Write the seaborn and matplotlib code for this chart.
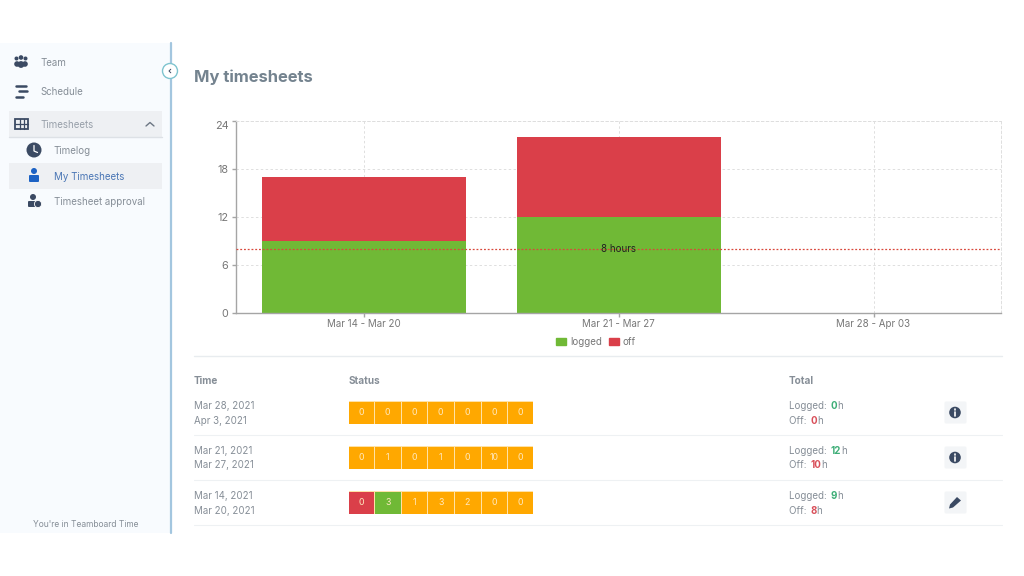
"""
My timesheets - stacked weekly hours with the status table around it
"""

import matplotlib
matplotlib.use('Agg')
import matplotlib.pyplot as plt
from matplotlib.colors import ListedColormap
from matplotlib.patches import Circle, FancyBboxPatch, Patch, Rectangle, Polygon
import numpy as np
import seaborn as sns

# Chart data
weeks = ['Mar 14 - Mar 20', 'Mar 21 - Mar 27', 'Mar 28 - Apr 03']
logged = [9, 12, 0]
off = [8, 10, 0]
y_ticks = [0, 6, 12, 18, 24]
threshold = 8

# Table data
time_from = ['Mar 28, 2021', 'Mar 21, 2021', 'Mar 14, 2021']
time_to = ['Apr 3, 2021', 'Mar 27, 2021', 'Mar 20, 2021']
day_hours = [[0, 0, 0, 0, 0, 0, 0],
             [0, 1, 0, 1, 0, 10, 0],
             [0, 3, 1, 3, 2, 0, 0]]
# 0 = open (orange), 1 = off (red), 2 = logged (green)
day_state = [[0, 0, 0, 0, 0, 0, 0],
             [0, 0, 0, 0, 0, 0, 0],
             [1, 2, 0, 0, 0, 0, 0]]
total_logged = ['0', '12', '9']
total_off = ['0', '10', '8']
menu_top = ['Team', 'Schedule']
menu_sub = ['Timelog', 'My Timesheets', 'Timesheet approval']

GREEN = '#70b936'
RED = '#da3f49'
ORANGE = '#ffa800'
GREY = '#868e97'
DARK = '#3b4a63'

sns.set_style("white")
plt.rcParams['font.family'] = ['Inter', 'DejaVu Sans']

W, H = 1024, 576
fig = plt.figure(figsize=(W / 100, H / 100), dpi=100)


def px_axes(x0, y0, x1, y1, **kw):
    """Axes from pixel box, y measured from the top"""
    return fig.add_axes([x0 / W, 1 - y1 / H, (x1 - x0) / W, (y1 - y0) / H], **kw)


# Page layer in pixel coordinates
ui = px_axes(0, 0, W, H)
ui.set_xlim(0, W)
ui.set_ylim(H, 0)
ui.axis('off')


def txt(x, y, s, size=7, color=GREY, **kw):
    kw.setdefault('va', 'center')
    return ui.text(x, y, s, fontsize=size, color=color, **kw)


# Sidebar
ui.add_patch(Rectangle((0, 43), 170, 490, color='#f8fbfe', lw=0))
ui.plot([171, 171], [43, 533], color='#a3c6df', lw=1.6)
ui.add_patch(Circle((170, 71), 7.5, fc='white', ec='#7fc4cf', lw=1, zorder=3))
ui.plot([170.8, 169, 170.8], [69.2, 71, 72.8], color=DARK, lw=0.7, zorder=4)
ui.add_patch(Rectangle((9, 111), 153, 26, color='#eef0f3', lw=0))
ui.add_patch(Rectangle((9, 163), 153, 26, color='#eef0f3', lw=0))
ui.plot([9, 162], [137, 137], color='#dde1e6', lw=1)

txt(40.5, 63, menu_top[0])
txt(40.5, 92, menu_top[1])
txt(40.5, 124.5, 'Timesheets', color='#979fa9')
txt(53.5, 151, menu_sub[0])
txt(53.5, 176.5, menu_sub[1], color='#4a76b5')
txt(53.5, 202, menu_sub[2])
txt(33, 524.5, "You're in Teamboard Time", size=6.1)

# Sidebar icons
for cx, cy, r in [(16.5, 58.5, 2), (21, 57.5, 2.3), (25.5, 58.5, 2), (17, 64, 2.8), (25, 64, 2.8), (21, 64.5, 3.4)]:
    ui.add_patch(Circle((cx, cy), r, color=DARK, lw=0))
for x0, x1, yy in [(16, 26, 85.5), (19, 27, 91), (16, 23, 96.5)]:
    ui.plot([x0, x1], [yy, yy], color=DARK, lw=1.8, solid_capstyle='round')
ui.add_patch(Rectangle((15, 119), 13, 10, fc='#eef0f3', ec=DARK, lw=1.3))
ui.plot([15, 28], [124, 124], color=DARK, lw=0.9)
ui.plot([19.5, 19.5], [119, 129], color=DARK, lw=0.9)
ui.plot([24, 24], [119, 129], color=DARK, lw=0.9)
ui.plot([146, 150, 154], [126, 122.5, 126], color='#6c7683', lw=1)
ui.add_patch(Circle((34, 150), 7.5, color=DARK, lw=0))
ui.plot([34, 34, 37.5], [145.5, 151, 152.5], color='white', lw=0.9)
ui.add_patch(Circle((34, 171), 3, color='#1c62c4', lw=0))
ui.add_patch(FancyBboxPatch((30, 176), 8, 5, boxstyle='round,pad=1', color='#1c62c4', lw=0))
ui.add_patch(Circle((33, 197), 3, color=DARK, lw=0))
ui.add_patch(FancyBboxPatch((29, 202), 7, 4, boxstyle='round,pad=1', color=DARK, lw=0))
ui.add_patch(Circle((38, 204), 3.6, color=DARK, ec='white', lw=0.6))

# Heading
txt(194, 77, 'My timesheets', size=11.9, color='#74838f', fontweight='bold')

# Stacked bars
ax = px_axes(236, 120.7, 1001, 312.7)
ax.patch.set_alpha(0)
sns.barplot(x=weeks, y=logged, color=GREEN, width=0.8, saturation=1, linewidth=0, ax=ax, zorder=2)
sns.barplot(x=weeks, y=off, bottom=logged, color=RED, width=0.8, saturation=1, linewidth=0, ax=ax, zorder=2)
ax.set_ylim(0, 24)
ax.set_xlim(-0.5, 2.5)
ax.set_yticks(y_ticks)
ax.tick_params(axis='both', length=3, width=1, color='#a5a5a5', labelcolor='#777777',
               labelsize=7, pad=1.5, left=True, bottom=True)
ax.tick_params(axis='y', labelsize=7.8, pad=2.5)
ax.get_yticklabels()[-1].set_verticalalignment('top')
ax.grid(True, color='#dedede', ls=(0, (2.5, 2.5)), lw=0.7)
ax.set_axisbelow(True)
for side in ['top', 'right']:
    ax.spines[side].set_visible(True)
    ax.spines[side].set_color('#dedede')
    ax.spines[side].set_linestyle((0, (2.5, 2.5)))
    ax.spines[side].set_linewidth(0.7)
for side in ['left', 'bottom']:
    ax.spines[side].set_visible(True)
    ax.spines[side].set_color('#a5a5a5')
    ax.spines[side].set_linewidth(1)
ax.axhline(threshold, color='#d9483c', ls=(0, (1.5, 1.5)), lw=0.9, zorder=3)
ax.text(1, threshold, '8 hours', ha='center', va='center', fontsize=7, color='#222222', zorder=4)
ax.legend(handles=[Patch(color=GREEN, label='logged'), Patch(color=RED, label='off')],
          ncol=2, frameon=False, loc='center', bbox_to_anchor=(0.4705, -0.152),
          fontsize=7, labelcolor='#777777', handlelength=1.05, handleheight=0.8,
          handletextpad=0.35, columnspacing=0.75, borderpad=0)

# Table
rule = '#eef1f3'
ui.plot([194, 1002], [356, 356], color='#e8ecef', lw=1)
txt(194, 381, 'Time', fontweight='bold', size=7.2)
txt(349, 381, 'Status', fontweight='bold', size=7.2)
txt(789, 381, 'Total', fontweight='bold', size=7.2)

row_y = [412.5, 457.5, 502.5]
state_cmap = ListedColormap([ORANGE, RED, GREEN])
for i, yc in enumerate(row_y):
    ui.plot([194, 1002], [yc + 22.5, yc + 22.5], color=rule, lw=0.8)
    txt(194, yc - 6.5, time_from[i])
    txt(194, yc + 8, time_to[i])

    cell_ax = px_axes(348.5, yc - 11.5, 533, yc + 11.5)
    sns.heatmap(np.array([day_state[i]]), annot=np.array([day_hours[i]]), fmt='d',
                cmap=state_cmap, vmin=-0.5, vmax=2.5, cbar=False, linewidths=0.6,
                linecolor='#ffe2a6', xticklabels=False, yticklabels=False, ax=cell_ax,
                annot_kws={'fontsize': 6.3, 'color': '#ffe9c0'})
    cell_ax.set_xlim(0.02, 6.98)
    cell_ax.set_ylim(0.98, 0.02)

    # Totals, coloured number between grey pieces
    t = txt(789, yc - 6.5, 'Logged: ')
    fig.canvas.draw()
    inv = ui.transData.inverted()
    x = inv.transform((t.get_window_extent().x1, 0))[0]
    t = txt(x + 1, yc - 6.5, total_logged[i], color='#3fae78', fontweight='bold')
    x = inv.transform((t.get_window_extent().x1, 0))[0]
    txt(x, yc - 6.5, 'h')
    t = txt(789, yc + 8, 'Off: ')
    x = inv.transform((t.get_window_extent().x1, 0))[0]
    t = txt(x + 1, yc + 8, total_off[i], color='#d9505a', fontweight='bold')
    x = inv.transform((t.get_window_extent().x1, 0))[0]
    txt(x, yc + 8, 'h')

    # Action button
    ui.add_patch(FancyBboxPatch((946, yc - 9.5), 19, 19, boxstyle='round,pad=1.5', color='#f3f5f7', lw=0))
    if i < 2:
        ui.add_patch(Circle((955, yc), 5.8, color=DARK, lw=0))
        ui.plot([955, 955], [yc - 0.5, yc + 3], color='white', lw=1.2)
        ui.plot([955, 955], [yc - 3.2, yc - 2.2], color='white', lw=1.2)
    else:
        ui.add_patch(Polygon([(949, yc + 6), (950, yc + 2), (957, yc - 5.5), (961, yc - 2),
                              (953, yc + 5)], color=DARK, lw=0))

fig.savefig('out.png', dpi=100)
plt.close(fig)
